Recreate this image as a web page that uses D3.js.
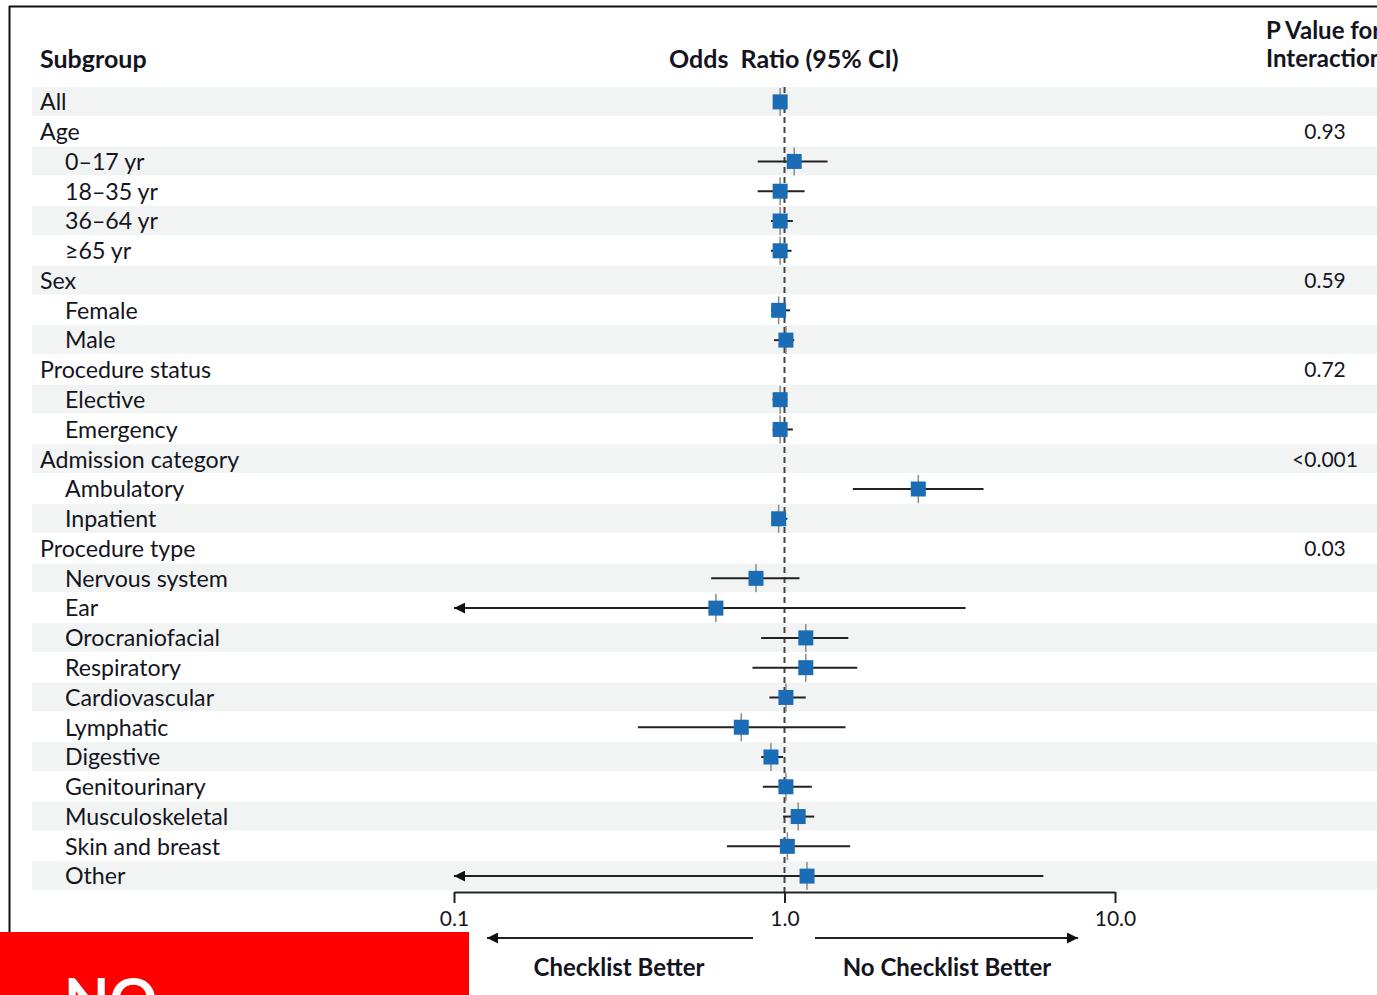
<!DOCTYPE html>
<html><head><meta charset="utf-8">
<script src="https://cdn.jsdelivr.net/npm/d3@7"></script>
<style>
html,body{margin:0;padding:0;background:#fff;overflow:hidden;}
svg{display:block;}
text{font-family:Lato, "Open Sans", sans-serif;fill:#14141e;}
</style></head>
<body>
<svg id="chart" width="1377" height="995"></svg>
<script>
const subgroups = ["All","Age","0–17 yr","18–35 yr","36–64 yr","≥65 yr","Sex","Female","Male","Procedure status","Elective","Emergency","Admission category","Ambulatory","Inpatient","Procedure type","Nervous system","Ear","Orocraniofacial","Respiratory","Cardiovascular","Lymphatic","Digestive","Genitourinary","Musculoskeletal","Skin and breast","Other"];
const isSubitem = [0,0,1,1,1,1,0,1,1,0,1,1,0,1,1,0,1,1,1,1,1,1,1,1,1,1,1];
const oddsRatio = [0.97,null,1.07,0.97,0.97,0.97,null,0.96,1.01,null,0.97,0.97,null,2.54,0.96,null,0.82,0.62,1.16,1.16,1.01,0.74,0.91,1.01,1.10,1.02,1.17];
const ciLower   = [0.95,null,0.83,0.83,0.91,0.91,null,0.91,0.93,null,0.92,0.92,null,1.61,0.95,null,0.60,0.05,0.85,0.80,0.90,0.36,0.85,0.86,0.99,0.67,0.06];
const ciUpper   = [1.00,null,1.35,1.15,1.06,1.05,null,1.04,1.07,null,1.02,1.06,null,4.00,1.02,null,1.11,3.53,1.56,1.66,1.16,1.53,0.99,1.21,1.23,1.58,6.07];
const pInteraction = ["", "0.93","","","","","0.59","","","0.72","","","<0.001","","","0.03","","","","","","","","","","",""];
const tickValues = [0.1, 1, 10];
const tickLabels = ["0.1","1.0","10.0"];

const svg = d3.select("#chart");
const x = d3.scaleLog().domain([0.1, 10]).range([454, 1115]);
const y = d3.scaleBand().domain(d3.range(subgroups.length)).range([87, 891]);
const yc = i => y(i) + y.bandwidth()/2;

// frame
svg.append("line").attr("x1",9.5).attr("x2",9.5).attr("y1",6).attr("y2",940).attr("stroke","#111").attr("stroke-width",2);
svg.append("line").attr("x1",9).attr("x2",1377).attr("y1",6.5).attr("y2",6.5).attr("stroke","#111").attr("stroke-width",2);

// bands
svg.append("g").selectAll("rect").data(d3.range(subgroups.length).filter(i => i % 2 === 0)).join("rect")
  .attr("x",32).attr("width",1377-32).attr("y",i => y(i)).attr("height",y.bandwidth()-1)
  .attr("fill","#f2f4f3");

// headers
svg.append("text").attr("x",40).attr("y",68).attr("font-weight","bold").attr("font-size",25).text("Subgroup");
svg.append("text").attr("x",669).attr("y",68).attr("font-weight","bold").attr("font-size",25)
  .style("white-space","pre").text("Odds  Ratio (95% CI)");
svg.append("text").attr("x",1266).attr("y",39).attr("font-weight","bold").attr("font-size",24).text("P Value for");
svg.append("text").attr("x",1266).attr("y",67).attr("font-weight","bold").attr("font-size",24).text("Interaction");

// labels
svg.append("g").selectAll("text").data(subgroups).join("text")
  .attr("x",(d,i) => isSubitem[i] ? 65 : 40).attr("y",(d,i) => yc(i)).attr("dy","0.36em")
  .attr("font-size",23.2).text(d => d);

// p values
svg.append("g").selectAll("text").data(pInteraction).join("text")
  .attr("x",1325).attr("y",(d,i) => yc(i)).attr("dy","0.36em").attr("text-anchor","middle")
  .attr("font-size",21).text(d => d);

// reference dashed line
svg.append("line").attr("x1",x(1)).attr("x2",x(1)).attr("y1",87).attr("y2",892)
  .attr("stroke","#444").attr("stroke-width",2).attr("stroke-dasharray","6,4");

// axis
const axis = d3.axisBottom(x).tickValues(tickValues).tickFormat((d,i) => tickLabels[i]).tickSizeInner(11).tickSizeOuter(0).tickPadding(8);
const ag = svg.append("g").attr("transform","translate(0,892)").call(axis);
ag.select(".domain").attr("stroke","#222").attr("stroke-width",2);
ag.selectAll(".tick line").attr("stroke","#222").attr("stroke-width",2);
ag.selectAll(".tick text").attr("font-family","Lato, sans-serif").attr("font-size",21).attr("fill","#14141e");

// arrowheads
const defs = svg.append("defs");
defs.append("marker").attr("id","ah2").attr("viewBox","0 0 10 10").attr("refX",10).attr("refY",5)
  .attr("markerWidth",16).attr("markerHeight",11).attr("markerUnits","userSpaceOnUse").attr("orient","auto-start-reverse")
  .append("path").attr("d","M0,0 L10,5 L0,10 Z").attr("fill","#111");

// CI lines
const rows = d3.range(subgroups.length).filter(i => oddsRatio[i] !== null);
const ci = svg.append("g");
rows.forEach(i => {
  const lo = Math.max(ciLower[i], 0.1), hi = Math.min(ciUpper[i], 10);
  const l = ci.append("line").attr("y1",yc(i)).attr("y2",yc(i)).attr("stroke","#222").attr("stroke-width",2);
  if (ciLower[i] < 0.1) {
    l.attr("x1",x(hi)).attr("x2",x(lo)).attr("marker-end","url(#ah2)");
  } else {
    l.attr("x1",x(lo)).attr("x2",x(hi));
  }
});

// thin vertical marks
svg.append("g").selectAll("line").data(rows).join("line")
  .attr("x1",i => x(oddsRatio[i])).attr("x2",i => x(oddsRatio[i]))
  .attr("y1",i => yc(i)-14).attr("y2",i => yc(i)+14)
  .attr("stroke","#8a8a8a").attr("stroke-width",1.5);

// squares
const s = 15;
svg.append("g").selectAll("rect").data(rows).join("rect")
  .attr("x",i => x(oddsRatio[i]) - s/2).attr("y",i => yc(i) - s/2)
  .attr("width",s).attr("height",s).attr("fill","#1a6db4");

// direction arrows
svg.append("line").attr("x1",753).attr("x2",487).attr("y1",938).attr("y2",938)
  .attr("stroke","#222").attr("stroke-width",2).attr("marker-end","url(#ah2)");
svg.append("line").attr("x1",815).attr("x2",1078).attr("y1",938).attr("y2",938)
  .attr("stroke","#222").attr("stroke-width",2).attr("marker-end","url(#ah2)");
svg.append("text").attr("x",619).attr("y",976).attr("text-anchor","middle").attr("font-weight","bold").attr("font-size",24).text("Checklist Better");
svg.append("text").attr("x",947).attr("y",976).attr("text-anchor","middle").attr("font-weight","bold").attr("font-size",24).text("No Checklist Better");

// red stamp (text is cut off at the bottom edge, as in the reference)
svg.append("rect").attr("x",0).attr("y",932).attr("width",469).attr("height",63).attr("fill","#ff0000");
svg.append("text").attr("x",64).attr("y",1021).attr("font-family","DejaVu Sans, sans-serif").attr("font-weight","bold")
  .attr("font-size",59).style("fill","#fff").text("NO");
</script>
</body></html>
